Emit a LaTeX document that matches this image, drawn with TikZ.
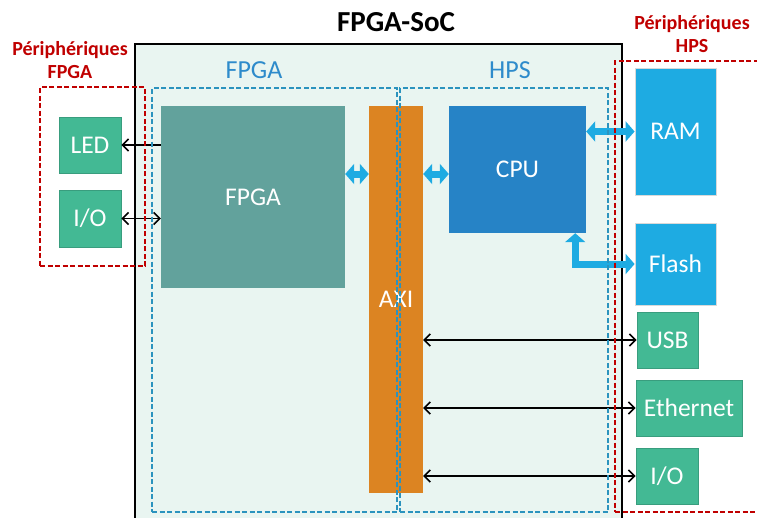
\documentclass[tikz,border=0pt]{standalone}
\usepackage{fontspec}
\setmainfont{Carlito}
\usetikzlibrary{arrows.meta, positioning}
\definecolor{socfill}{HTML}{E9F5F1}
\definecolor{periphgreen}{HTML}{43B994}
\definecolor{fpgateal}{HTML}{62A29C}
\definecolor{axiorange}{HTML}{DC8422}
\definecolor{cpublue}{HTML}{2683C6}
\definecolor{lightblue}{HTML}{1EABE2}
\definecolor{zoneblue}{HTML}{2B93BE}
\definecolor{labelblue}{HTML}{2E8BCB}
\definecolor{periphred}{HTML}{C00000}
\tikzset{
    base/.style={rectangle, inner sep=0pt, text=white, font=\fontsize{25.5}{27}\selectfont},
    periph/.style={base, fill=periphgreen, draw=periphgreen!85!black, line width=0.8pt},
    memory/.style={base, fill=lightblue, draw=black!15, line width=0.8pt},
    zone/.style={rectangle, inner sep=0pt, draw=zoneblue, line width=1.5pt, dash pattern=on 5pt off 2.5pt},
    redzone/.style={rectangle, inner sep=0pt, draw=periphred, line width=1.5pt, dash pattern=on 5pt off 2.5pt},
    redlabel/.style={text=periphred, align=center, font=\fontsize{20}{23.5}\selectfont\bfseries},
    bluelabel/.style={text=labelblue, font=\fontsize{26}{28}\selectfont},
    fat/.style={draw=lightblue, line width=7pt, line join=miter,
        {Triangle[length=9pt,width=20pt]}-{Triangle[length=9pt,width=20pt]}},
    link/.style={draw=black, line width=1.6pt,
        {Straight Barb[length=6pt,width=12pt]}-{Straight Barb[length=6pt,width=12pt]}}
}

\begin{document}
\begin{tikzpicture}[x=1pt, y=-1pt]
    \useasboundingbox (0,0) rectangle (757,517);
    \clip (0,0) rectangle (757,517);

    % SoC outline
    \node (soc) [rectangle, inner sep=0pt, fill=socfill, draw=black, line width=1.4pt,
        minimum width=487pt, minimum height=486pt] at (378.5,287) {};
    \node (title) [font=\fontsize{29}{31}\selectfont\bfseries] at (396,22) {FPGA-SoC};
    \node (fpgalabel) [bluelabel] at (254,70) {FPGA};
    \node (hpslabel) [bluelabel] at (510,70) {HPS};
    \node (pflabel) [redlabel] at (70,60) {Périphériques\\FPGA};
    \node (phlabel) [redlabel] at (692,34) {Périphériques\\HPS};

    % blocks
    \node (fpga) [base, fill=fpgateal, minimum width=184pt, minimum height=182pt] at (253,197) {FPGA};
    \node (axi) [base, fill=axiorange, minimum width=54pt, minimum height=387pt] at (396,299.5) {AXI};
    \node (cpu) [base, fill=cpublue, minimum width=137pt, minimum height=127pt] at (517.5,169.5) {CPU};

    % peripherals
    \node (led) [periph, minimum width=62pt, minimum height=56pt] at (90,145) {LED};
    \node (fio) [periph, minimum width=62pt, minimum height=57pt] at (90,218.5) {I/O};
    \node (ram) [memory, minimum width=81pt, minimum height=127pt] at (675.5,131.5) {RAM};
    \node (flash) [memory, minimum width=81pt, minimum height=82pt] at (675.5,264) {Flash};
    \node (usb) [periph, minimum width=61pt, minimum height=56pt] at (667.5,340) {USB};
    \node (eth) [periph, minimum width=106pt, minimum height=56pt] at (689,408) {Ethernet};
    \node (hio) [periph, minimum width=62pt, minimum height=56pt] at (667,476) {I/O};

    % links
    \draw [link, {-Straight Barb[length=6pt,width=12pt]}] (fpga.west |- led) -- (led.east);
    \draw [link] (fio.east) -- (fpga.west |- fio);
    \draw [fat] ([yshift=23pt]fpga.east) -- ([yshift=23pt]fpga.east -| axi.west);
    \draw [fat] ([yshift=23pt]fpga.east -| axi.east) -- ([yshift=23pt]fpga.east -| cpu.west);
    \draw [fat] (cpu.east |- ram) -- (ram.west);
    \draw [fat] ([xshift=-11pt]cpu.south east) |- (flash.west);
    \draw [link] (axi.east |- usb) -- (usb.west);
    \draw [link] (axi.east |- eth) -- (eth.west);
    \draw [link] (axi.east |- hio) -- (hio.west);

    % dashed zones
    \node (fpgazone) [zone, minimum width=245pt, minimum height=424pt] at (274.5,300) {};
    \node (hpszone) [zone, minimum width=208pt, minimum height=424pt] at (504,300) {};
    \node (pfzone) [redzone, minimum width=105pt, minimum height=179pt] at (92.5,176.5) {};
    \node (phzone) [redzone, minimum width=165pt, minimum height=451pt] at (697.5,286.5) {};
\end{tikzpicture}
\end{document}
